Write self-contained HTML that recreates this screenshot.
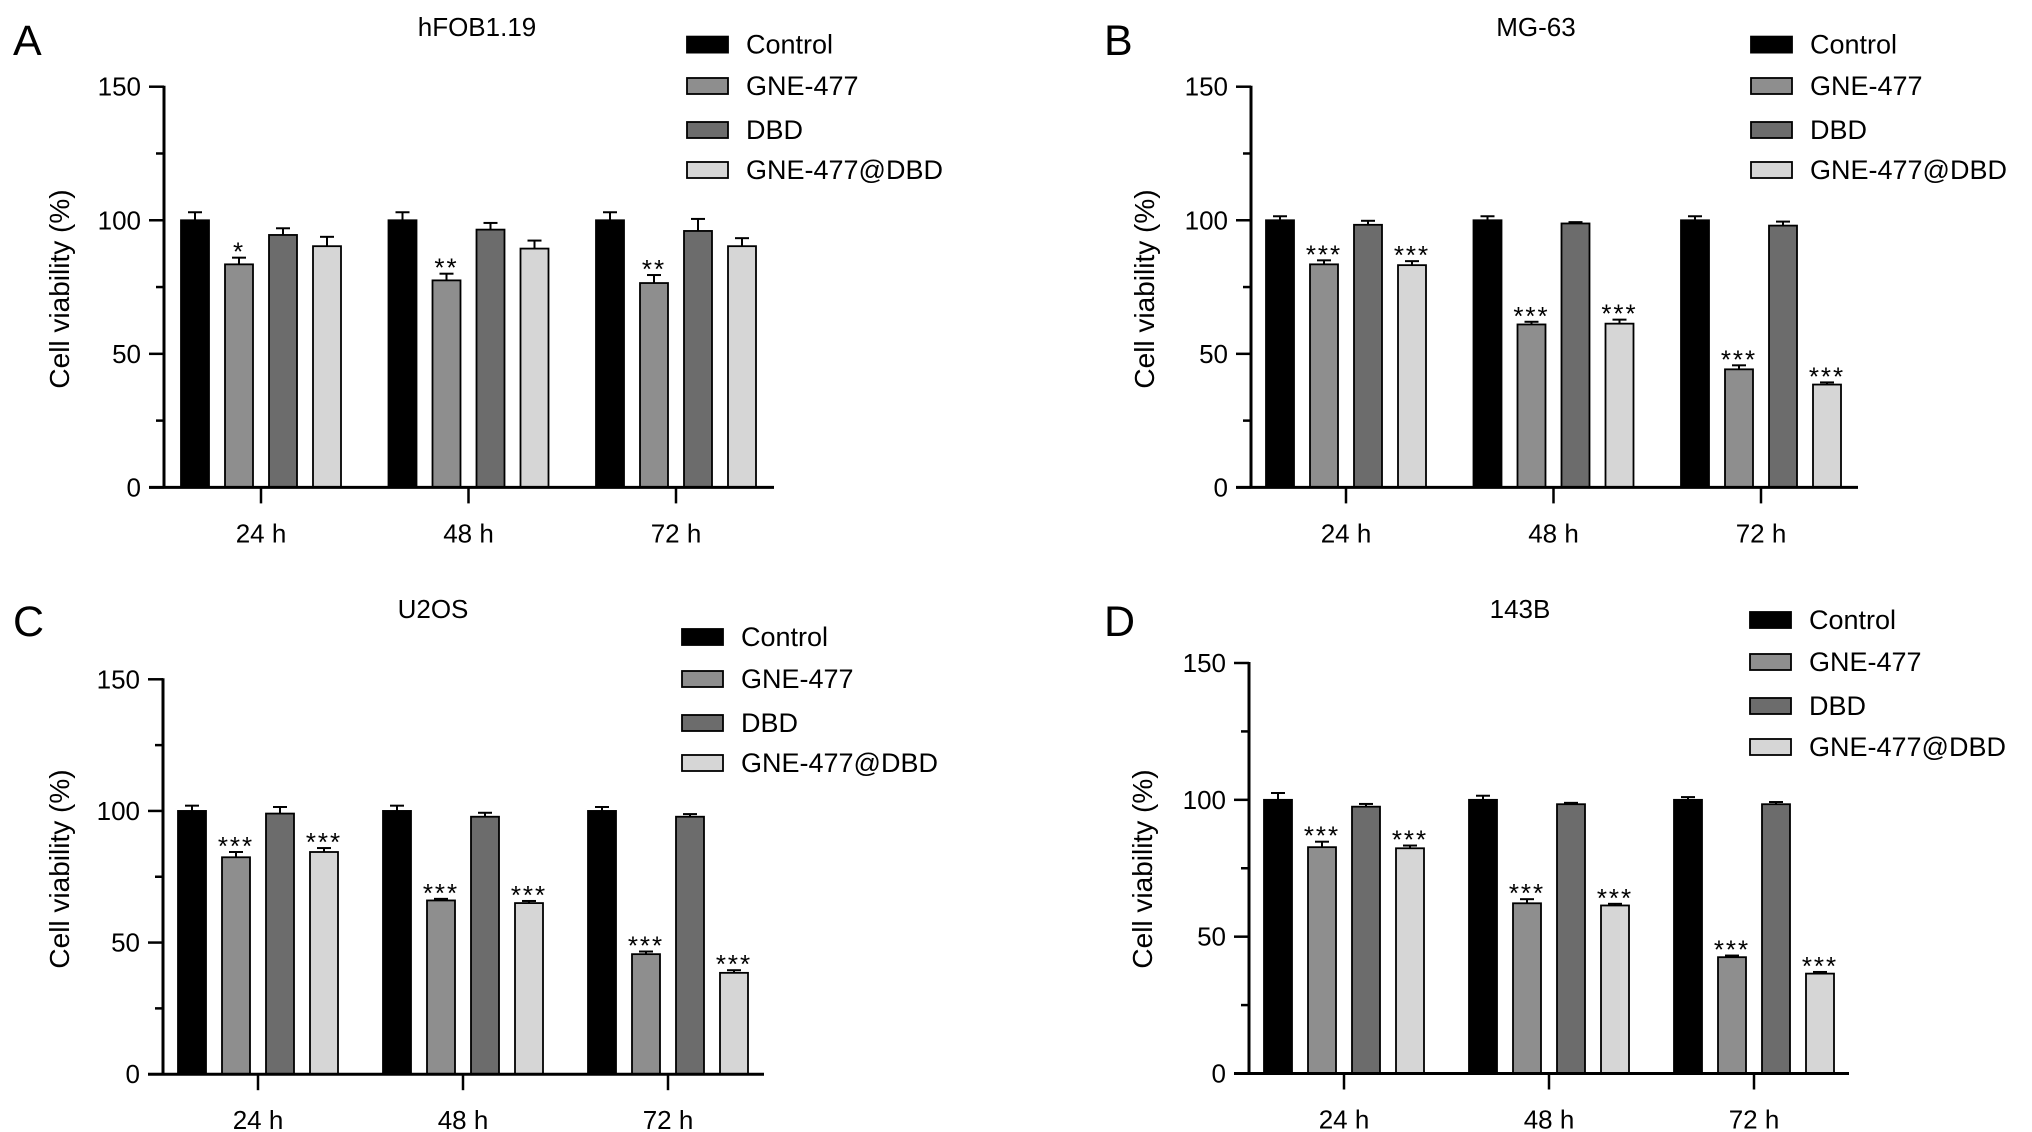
<!DOCTYPE html>
<html><head><meta charset="utf-8"><style>
html,body{margin:0;padding:0;background:#fff;}
svg{display:block;font-family:"Liberation Sans",Arial,sans-serif;}
</style></head><body>
<svg id="fig" width="2032" height="1132" viewBox="0 0 2032 1132" xmlns="http://www.w3.org/2000/svg"></svg>
<script>
const categories = ["24 h","48 h","72 h"];
const seriesNames = ["Control","GNE-477","DBD","GNE-477@DBD"];
const yTicks = [0,50,100,150];
const panelTitles = ["hFOB1.19","MG-63","U2OS","143B"];
const panelLetters = ["A","B","C","D"];
// values [panel][series][category]
const valuesA = [[100,100,100],[83.5,77.5,76.5],[94.5,96.5,96],[90.3,89.4,90.3]];
const errorsA = [[3,3,3],[2.5,2.5,3],[2.5,2.5,4.5],[3.5,3,3]];
const sigA = [["","",""],["*","**","**"],["","",""],["","",""]];
const valuesB = [[100,100,100],[83.5,61,44.2],[98.3,98.8,98],[83.2,61.3,38.5]];
const errorsB = [[1.5,1.5,1.5],[1.5,1,1.5],[1.5,0.5,1.5],[1.5,1.5,0.8]];
const sigB = [["","",""],["***","***","***"],["","",""],["***","***","***"]];
const valuesC = [[100,100,100],[82.4,66,45.6],[99,97.8,97.8],[84.4,65,38.5]];
const errorsC = [[2,2,1.5],[2,0.6,1],[2.5,1.5,1],[1.5,0.8,1]];
const sigC = [["","",""],["***","***","***"],["","",""],["***","***","***"]];
const valuesD = [[100,100,100],[82.7,62.2,42.5],[97.5,98.4,98.4],[82.3,61.4,36.5]];
const errorsD = [[2.5,1.5,1],[2,1.5,0.6],[1,0.5,0.8],[1,0.6,0.6]];
const sigD = [["","",""],["***","***","***"],["","",""],["***","***","***"]];

const panelValues=[valuesA,valuesB,valuesC,valuesD];
const panelErrors=[errorsA,errorsB,errorsC,errorsD];
const panelSig=[sigA,sigB,sigC,sigD];
const fills=["#000000","#8e8e8e","#6c6c6c","#d6d6d6"];
const layouts=[
 {ax:164,yT:86.7,y0:487.4,g0:261,gs:207.5,xEnd:774,tx:477,tyB:36,lgX:687,lgRows:[44.6,86,130,170],ytX:59,ytY:289,letX:13},
 {ax:1251,yT:86.7,y0:487.4,g0:1346,gs:207.5,xEnd:1858,tx:1536,tyB:36,lgX:1751,lgRows:[44.6,86,130,170],ytX:1144,ytY:289,letX:1104},
 {ax:163,yT:679.3,y0:1074.2,g0:258,gs:205,xEnd:764,tx:433,tyB:618,lgX:682,lgRows:[637,679,723,763],ytX:59,ytY:869,letX:13},
 {ax:1249,yT:663,y0:1073.5,g0:1344,gs:205,xEnd:1849,tx:1520,tyB:618,lgX:1750,lgRows:[620,662,706,747],ytX:1142,ytY:869,letX:1104}
];
const letterBase=[55,55,636,636];
const NS="http://www.w3.org/2000/svg";
const svg=document.getElementById('fig');
function mk(tag,attrs,parent,text){const e=document.createElementNS(NS,tag);for(const k in attrs)e.setAttribute(k,attrs[k]);if(text!==undefined)e.textContent=text;(parent||svg).appendChild(e);return e;}

layouts.forEach((L,p)=>{
  const g=mk('g',{});
  
  
  const yScale=v=>L.y0-(v/150)*(L.y0-L.yT);
  const xGroup=i=>L.g0+i*L.gs;
  const pitch=44, bw=28;
  const let_=mk('text',{x:L.letX,y:letterBase[p],'font-size':43},g,panelLetters[p]);
  
  
  const t=mk('text',{x:L.tx,y:L.tyB,'font-size':26,'text-anchor':'middle'},g,panelTitles[p]);
  
  
  const ya=mk('line',{x1:L.ax,y1:L.yT-1,x2:L.ax,y2:L.y0,stroke:'#000','stroke-width':3},g);
  
  
  for(let v=0;v<=150;v+=25){
    const major=v%50===0;
    mk('line',{x1:L.ax-(major?15:8),y1:yScale(v),x2:L.ax,y2:yScale(v),stroke:'#000','stroke-width':2.5},g);
  }
  yTicks.forEach(v=>{
    const tl=mk('text',{x:L.ax-23,y:yScale(v)+9,'font-size':26,'text-anchor':'end'},g,String(v));
    
    
  });
  const yt=mk('text',{x:0,y:0,'font-size':28,'text-anchor':'middle',transform:`translate(${L.ytX+10},${L.ytY}) rotate(-90)`},g,'Cell viability (%)');
  
  
  panelValues[p].forEach((ser,s)=>{
    ser.forEach((v,c)=>{
      const cx=xGroup(c)+(s-1.5)*pitch;
      const top=yScale(v), err=yScale(v+panelErrors[p][s][c]);
      mk('line',{x1:cx,y1:top,x2:cx,y2:err,stroke:'#000','stroke-width':2},g);
      mk('line',{x1:cx-7,y1:err,x2:cx+7,y2:err,stroke:'#000','stroke-width':2},g);
      const b=mk('rect',{x:cx-bw/2,y:top,width:bw,height:L.y0-top,fill:fills[s],stroke:'#000','stroke-width':1.8},g);
      
      
      const sg=panelSig[p][s][c];
      if(sg){
        const st=mk('text',{x:cx,y:err+3,'font-size':26,'text-anchor':'middle','letter-spacing':'2'},g,sg);
        
        
      }
    });
  });
  const xa=mk('line',{x1:L.ax-15,y1:L.y0,x2:L.xEnd,y2:L.y0,stroke:'#000','stroke-width':3},g);
  
  
  categories.forEach((c,i)=>{
    mk('line',{x1:xGroup(i),y1:L.y0,x2:xGroup(i),y2:L.y0+16,stroke:'#000','stroke-width':2.5},g);
    const xl=mk('text',{x:xGroup(i),y:L.y0+55,'font-size':26,'text-anchor':'middle'},g,c);
    
    
  });
  seriesNames.forEach((n,s)=>{
    const ry=L.lgRows[s];
    const le=mk('g',{},g);
    
    
    mk('rect',{x:L.lgX,y:ry-8,width:41,height:16,fill:fills[s],stroke:'#000','stroke-width':1.8},le);
    mk('text',{x:L.lgX+59,y:ry+9,'font-size':27},le,n);
  });
});
</script>
</body></html>
